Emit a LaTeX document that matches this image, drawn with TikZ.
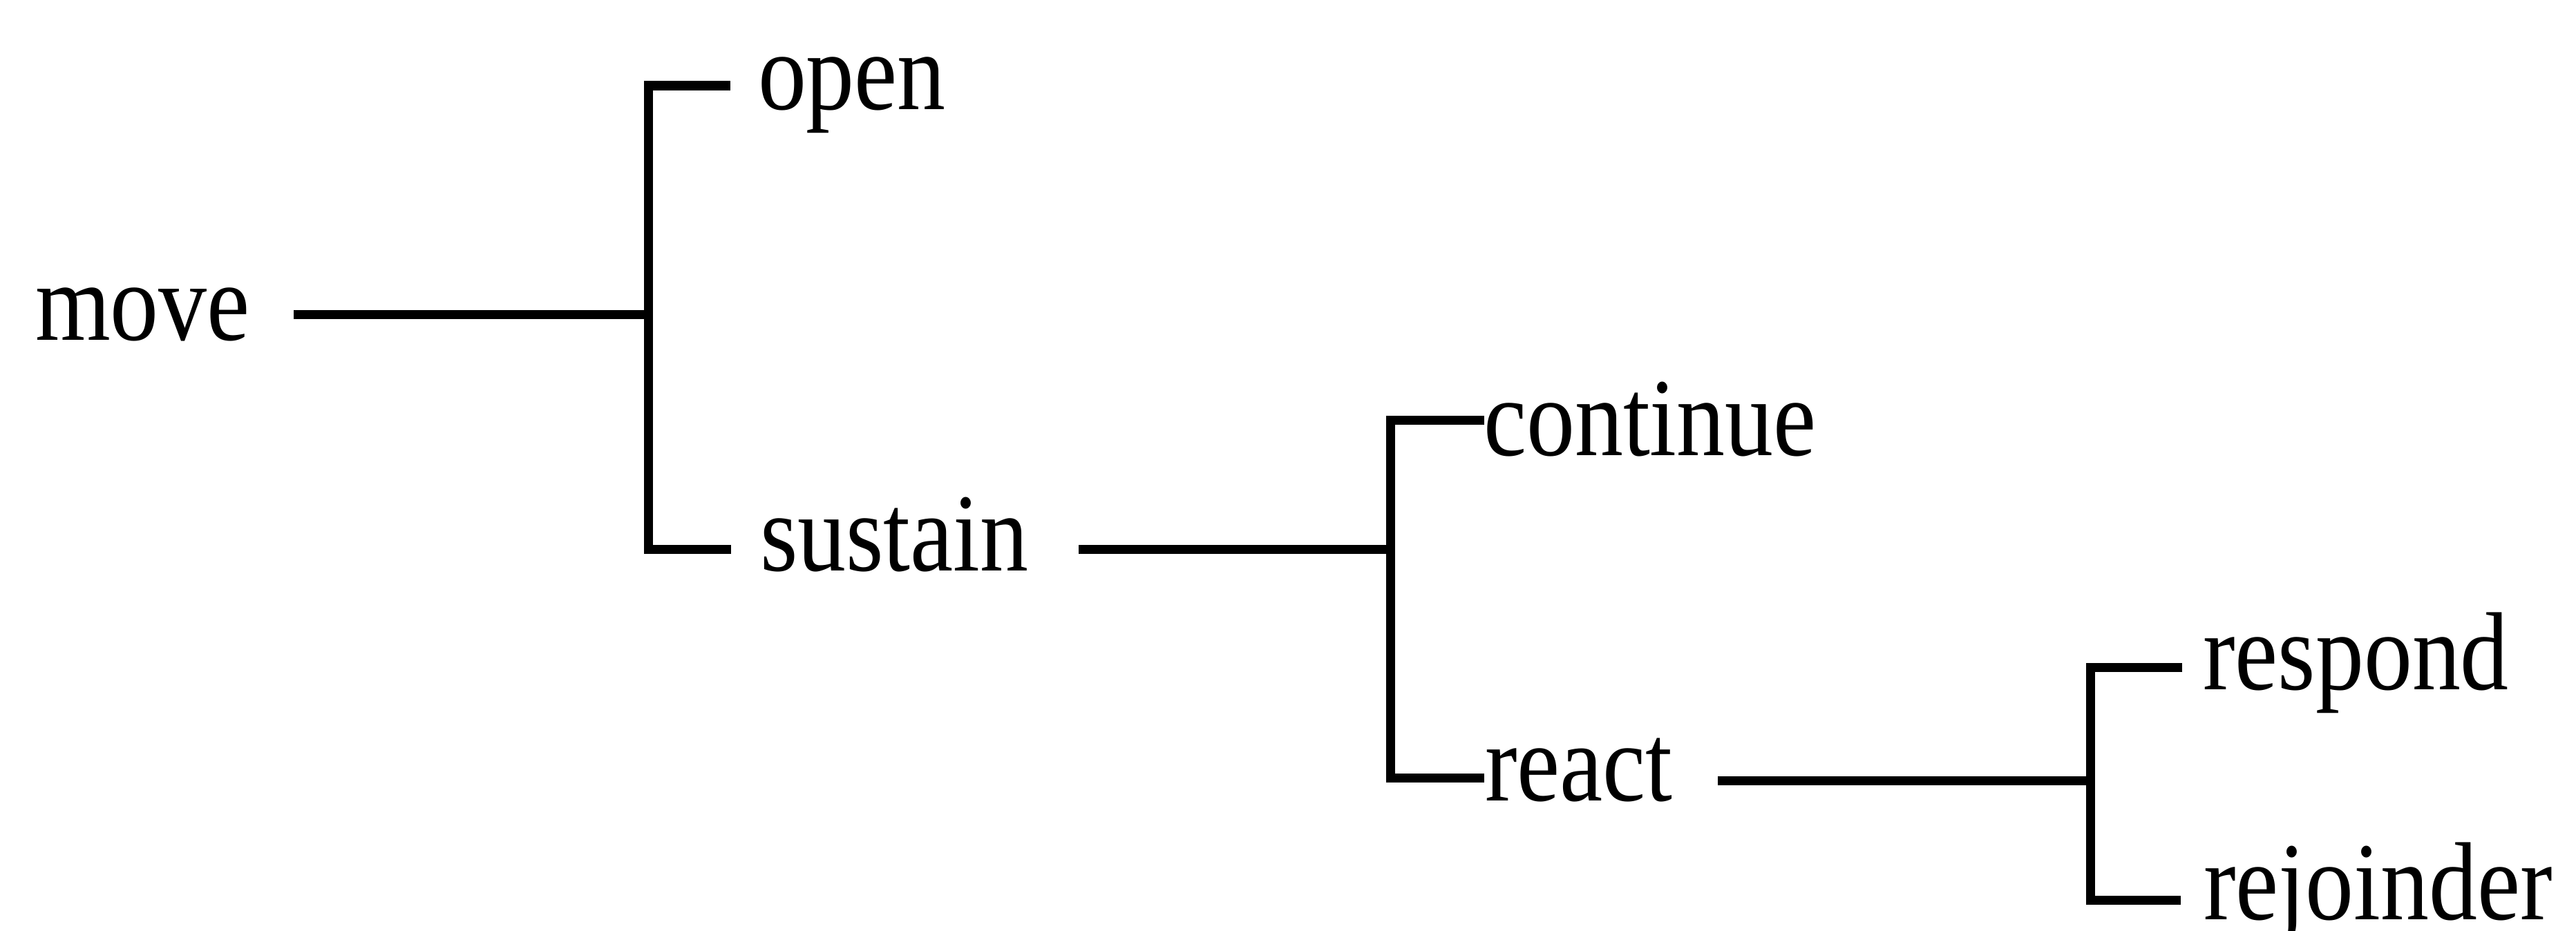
\documentclass[tikz,border=0pt]{standalone}
\usepackage{fontspec}
\setmainfont{Liberation Serif}
\begin{document}
\begin{tikzpicture}[
  x=1cm, y=1cm,
  label/.style={anchor=base west, inner sep=0pt, outer sep=0pt,
    font=\fontsize{39.8}{48}\selectfont},
  branch/.style={line width=3.7pt, line cap=butt, line join=miter},
]
\newcommand{\tall}[1]{\scalebox{1}[1.15]{#1}}
\useasboundingbox (0,0) rectangle (37.28,-13.48);

% labels
\node[label] (move)      at (0.51,-4.92)  {\tall{move}};
\node[label] (open)      at (10.97,-1.59) {\tall{open}};
\node[label] (sustain)   at (11.00,-8.26) {\tall{sustain}};
\node[label] (continue)  at (21.47,-6.59) {\tall{continue}};
\node[label] (react)     at (21.49,-11.59){\tall{react}};
\node[label] (respond)   at (31.88,-9.98) {\tall{respond}};
\node[label] (rejoinder) at (31.89,-13.31){\tall{rejoinder}};

% first bracket: move -> open / sustain
\coordinate (m0)  at (4.25,-4.55);
\coordinate (j1)  at (9.38,-4.55);
\coordinate (j1t) at (9.38,-1.24);
\coordinate (j1b) at (9.38,-7.95);
\coordinate (o0)  at (10.57,-1.24);
\coordinate (s0)  at (10.58,-7.95);
\draw[branch] (m0) -- (j1);
\draw[branch] (o0) -- (j1t) -- (j1b) -- (s0);

% second bracket: sustain -> continue / react
\coordinate (s1)  at (15.61,-7.95);
\coordinate (j2)  at (20.12,-7.95);
\coordinate (j2t) at (20.12,-6.08);
\coordinate (j2b) at (20.12,-11.26);
\coordinate (c0)  at (21.48,-6.08);
\coordinate (r0)  at (21.48,-11.26);
\draw[branch] (s1) -- (j2);
\draw[branch] (c0) -- (j2t) -- (j2b) -- (r0);

% third bracket: react -> respond / rejoinder
\coordinate (r1)  at (24.86,-11.30);
\coordinate (j3)  at (30.25,-11.30);
\coordinate (j3t) at (30.25,-9.66);
\coordinate (j3b) at (30.25,-13.03);
\coordinate (p0)  at (31.58,-9.66);
\coordinate (q0)  at (31.56,-13.03);
\draw[branch] (r1) -- (j3);
\draw[branch] (p0) -- (j3t) -- (j3b) -- (q0);
\end{tikzpicture}
\end{document}
